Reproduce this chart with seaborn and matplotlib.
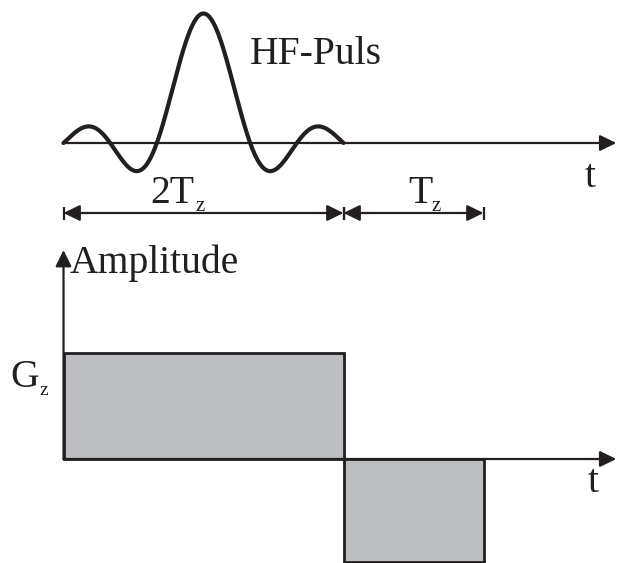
import numpy as np
import pandas as pd
import matplotlib
matplotlib.use("Agg")
import matplotlib.pyplot as plt
import seaborn as sns

sns.set_theme(style="white")
plt.rcParams["font.family"] = ["Liberation Serif", "DejaVu Serif"]

# Slice-selection timing, time in units of T_z
pulse_start = 0.0
pulse_duration = 2.0          # RF pulse lasts 2 T_z
pulse_zero_crossings = 3      # sinc zero crossings on each side of the main lobe
pulse_peak = 1.0

# Gradient lobes: start time, duration, amplitude (in units of G_z)
lobe_start = [0.0, 2.0]
lobe_width = [2.0, 1.0]
lobe_amp = [1.0, -0.97]

# Dimension markers
dim_spans = [(0.0, 2.0), (2.0, 3.0)]
dim_labels = [("2T", "z"), ("T", "z")]

W, H = 617, 563
fig = plt.figure(figsize=(W / 100, H / 100), dpi=100)
fig.patch.set_facecolor("white")

X0 = 63.5       # pixel of t = 0
TZ = 140.0      # pixels per T_z
xlim = (-X0 / TZ, (W - X0) / TZ)

FS = 28.5
FS_SUB = 15
INK = "#231f20"
FILL = "#bdbec2"

def px(x):
    return (x - X0) / TZ

# ---------- RF pulse ----------
top_h = 235
ax1 = fig.add_axes([0, (H - top_h) / H, 1, top_h / H])
base1, scale1 = 143.0, 129.5
ax1.set_xlim(*xlim)
ax1.set_ylim((base1 - top_h) / scale1, base1 / scale1)
ax1.axis("off")

def py1(y):
    return (base1 - y) / scale1

t = np.linspace(pulse_start, pulse_start + pulse_duration, 600)
center = pulse_start + pulse_duration / 2
b1 = pulse_peak * np.sinc(pulse_zero_crossings * (t - center) / (pulse_duration / 2))
pulse_df = pd.DataFrame({"t": t, "B1": b1})
sns.lineplot(data=pulse_df, x="t", y="B1", ax=ax1, color=INK, lw=3.0,
             solid_capstyle="round", zorder=3)

def arrow(ax, start, tip, lw=1.6, hl=0.45, hw=0.22):
    ax.annotate("", xy=tip, xytext=start,
                arrowprops=dict(arrowstyle=f"-|>,head_length={hl},head_width={hw}",
                                lw=lw, color=INK, shrinkA=0, shrinkB=0,
                                mutation_scale=22))

arrow(ax1, (0.0, 0.0), (xlim[1] - 0.005, 0.0))
ax1.text(px(250), py1(64), "HF-Puls", fontsize=FS,
         color=INK, va="baseline", ha="left")
ax1.text(px(585), py1(187), "t", fontsize=FS,
         color=INK, va="baseline", ha="left")

dim_y = py1(213)
bar_h = 6.5 / scale1
for (a, b), (main, sub), lx, sx in zip(dim_spans, dim_labels, [150, 408], [195, 432]):
    ax1.annotate("", xy=(b, dim_y), xytext=(a, dim_y),
                 arrowprops=dict(arrowstyle="<|-|>,head_length=0.45,head_width=0.22",
                                 lw=1.6, color=INK, shrinkA=0, shrinkB=0,
                                 mutation_scale=22))
    ax1.vlines([a, b], dim_y - bar_h, dim_y + bar_h, color=INK, lw=1.6)
    ax1.text(px(lx), py1(203), main, fontsize=FS,
             color=INK, va="baseline", ha="left")
    ax1.text(px(sx), py1(211), sub, fontsize=FS_SUB,
             color=INK, va="baseline", ha="left")

# ---------- Slice-selection gradient ----------
bot_top = 235
ax2 = fig.add_axes([0, 0, 1, (H - bot_top) / H])
base2, scale2 = 459.0, 106.0
ax2.set_xlim(*xlim)
ax2.set_ylim((base2 - H) / scale2, (base2 - bot_top) / scale2)
ax2.axis("off")

def py2(y):
    return (base2 - y) / scale2

ax2.bar(lobe_start, lobe_amp, width=lobe_width, align="edge", color=FILL,
        edgecolor=INK, linewidth=2.0, zorder=2)
arrow(ax2, (0.0, 0.0), (xlim[1] - 0.005, 0.0))
arrow(ax2, (0.0, 0.0), (0.0, py2(250)))

ax2.text(px(70), py2(273), "Amplitude", fontsize=FS,
         color=INK, va="baseline", ha="left")
ax2.text(px(10), py2(387), "G", fontsize=FS, color=INK,
         va="baseline", ha="left")
ax2.text(px(40), py2(395), "z", fontsize=FS_SUB - 1, color=INK,
         va="baseline", ha="left")
ax2.text(px(588), py2(492), "t", fontsize=FS,
         color=INK, va="baseline", ha="left")

fig.savefig("out.png", dpi=100, facecolor="white")
